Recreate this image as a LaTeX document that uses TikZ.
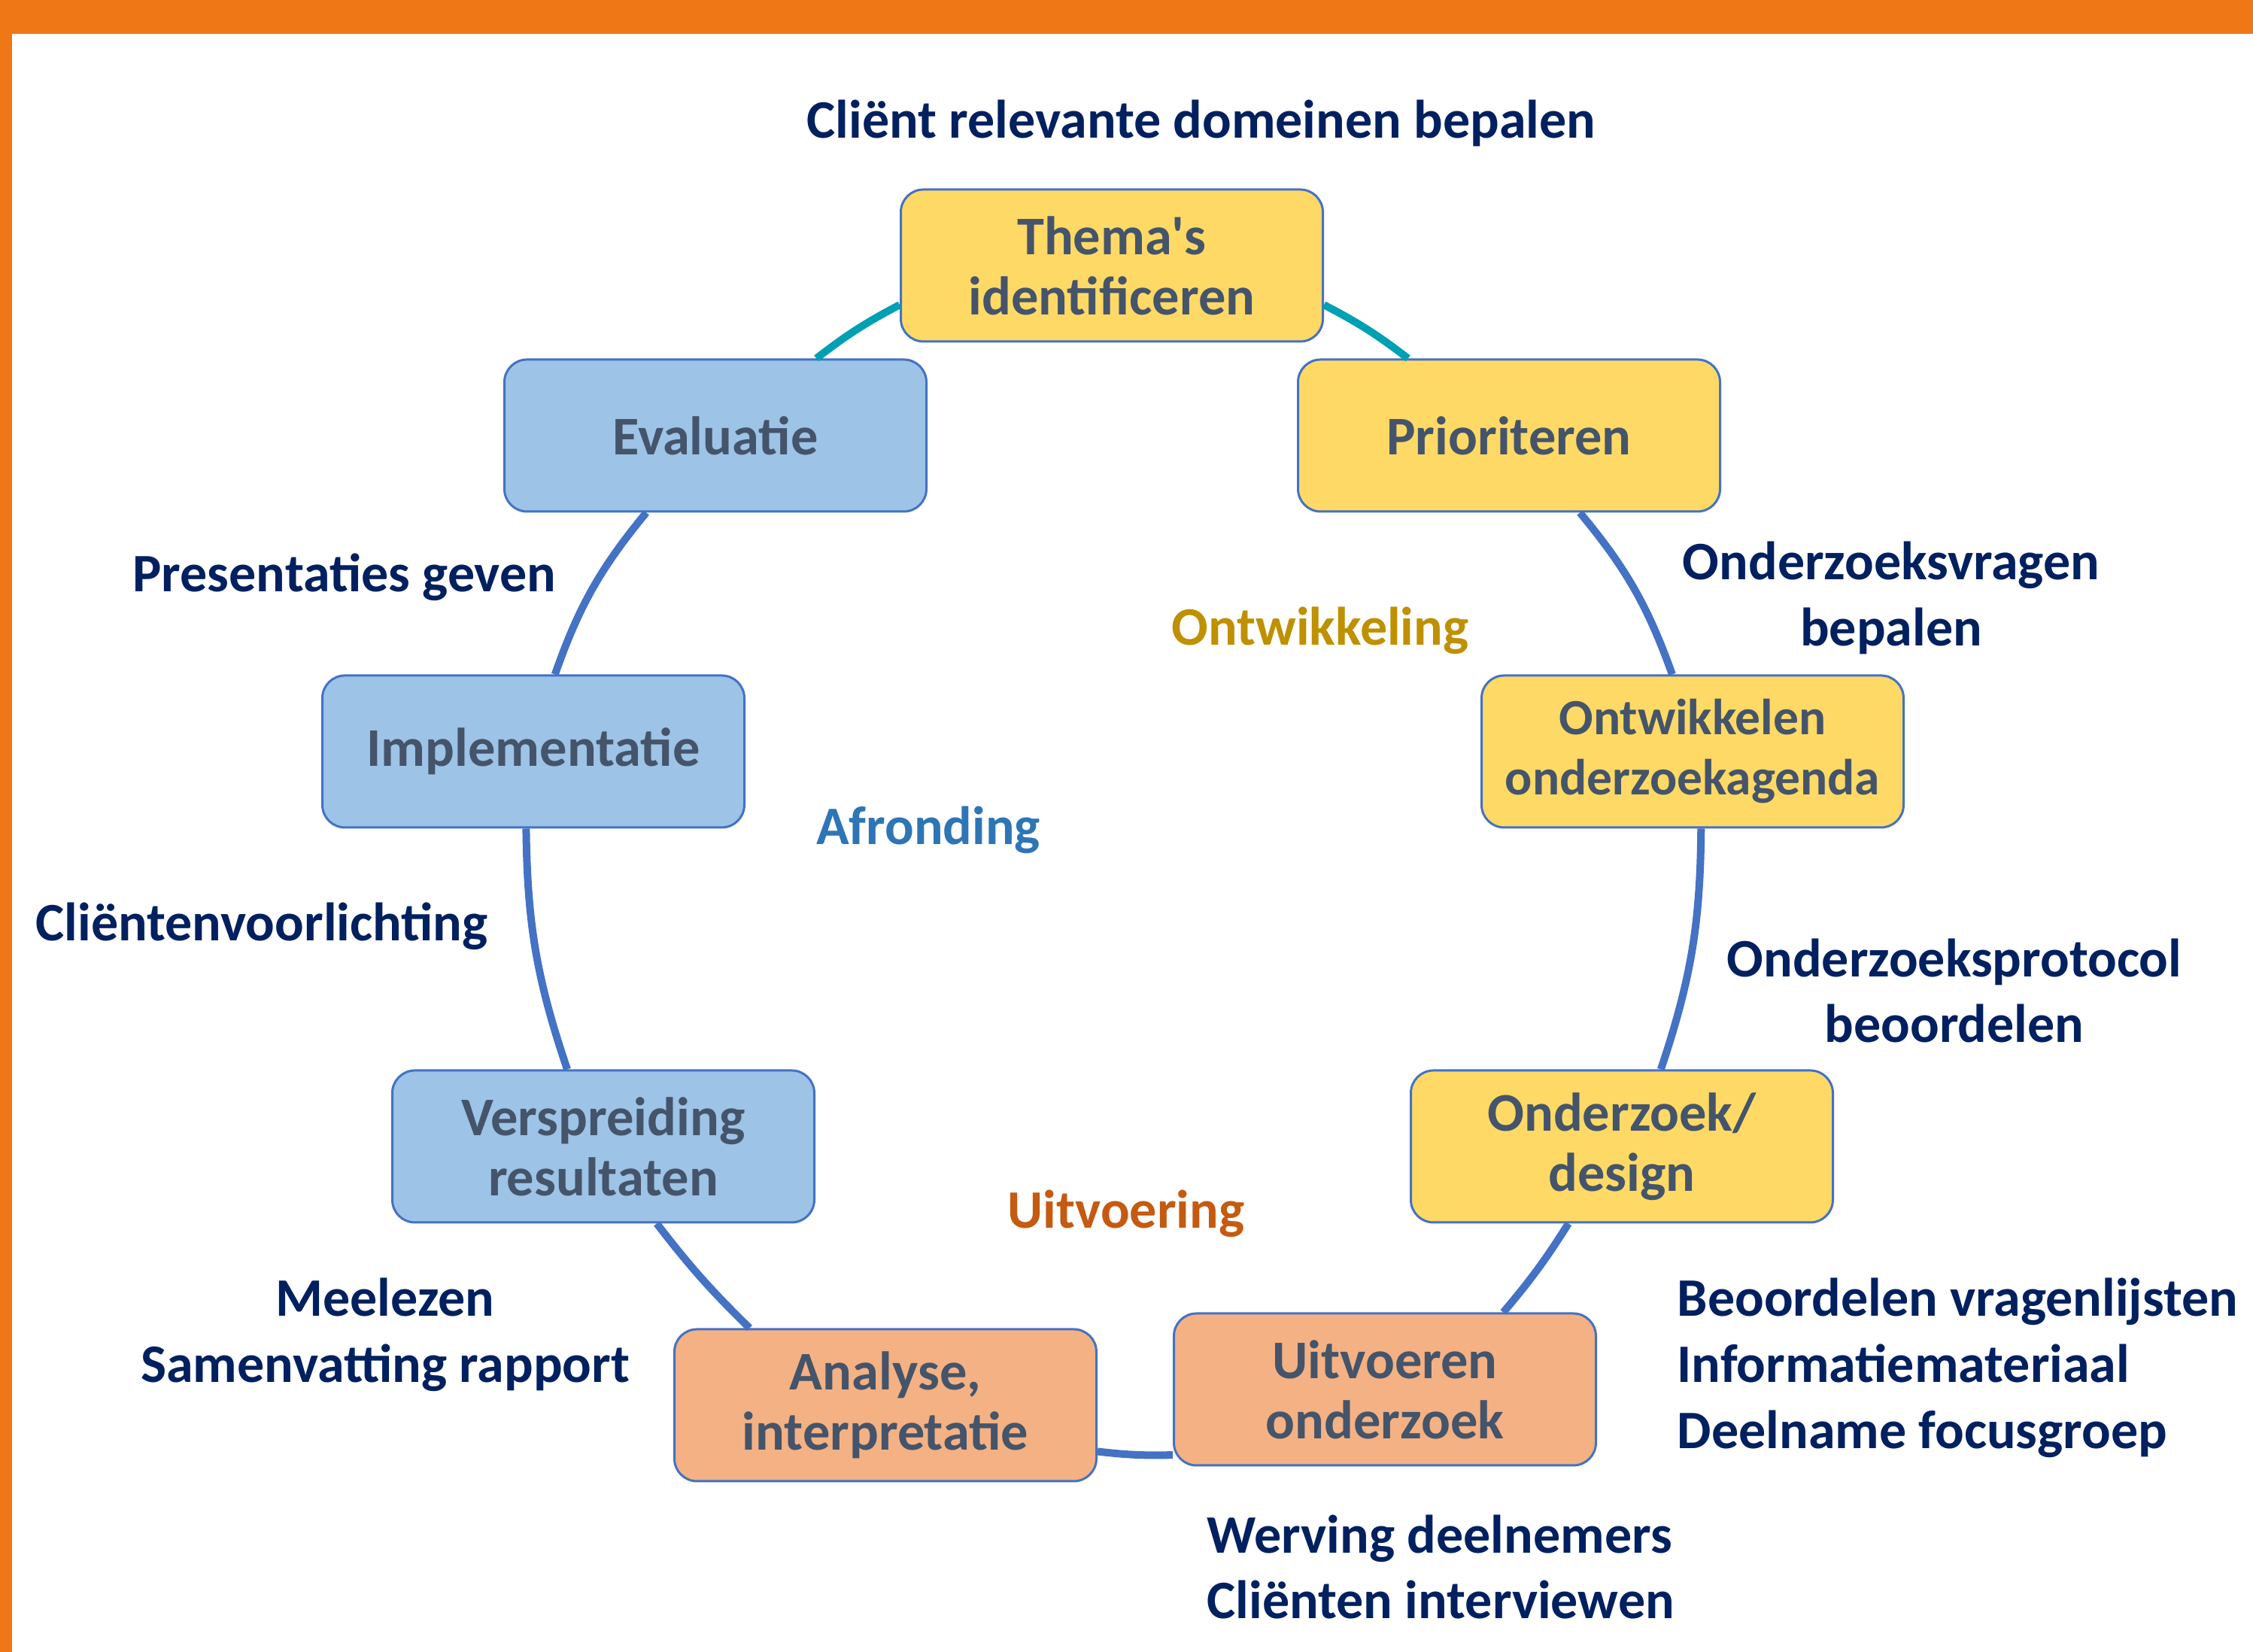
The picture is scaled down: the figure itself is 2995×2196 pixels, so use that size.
\documentclass[tikz,border=0pt]{standalone}
\usepackage{fontspec}
\setmainfont{Carlito}[Ligatures=TeXOff]
\usetikzlibrary{calc}
\definecolor{orangeband}{HTML}{EF7715}
\definecolor{boxline}{HTML}{4472C4}
\definecolor{boxtext}{HTML}{44546A}
\definecolor{navy}{HTML}{002060}
\definecolor{yel}{HTML}{FFD966}
\definecolor{blu}{HTML}{9DC3E6}
\definecolor{ora}{HTML}{F4B183}
\definecolor{teal}{HTML}{00A0B4}
\definecolor{gold}{HTML}{BF9000}
\definecolor{phblue}{HTML}{2E75B6}
\definecolor{phorange}{HTML}{C55A11}
\tikzset{
  stepbox/.style={draw=boxline, line width=0.3mm, rounded corners=3mm,
    minimum width=56.1mm, minimum height=20.2mm, align=center, text=boxtext,
    inner sep=0pt, font=\bfseries\fontsize{20.6}{22.8}\selectfont},
  ybox/.style={stepbox, fill=yel},
  bbox/.style={stepbox, fill=blu},
  obox/.style={stepbox, fill=ora},
  lab/.style={text=navy, inner sep=0pt, font=\bfseries\fontsize{20.5}{25}\selectfont},
  phase/.style={inner sep=0pt, font=\bfseries\fontsize{20.5}{25}\selectfont},
  conn/.style={line width=1.0mm, draw=boxline},
  tconn/.style={line width=1.0mm, draw=teal}
}
\begin{document}
\begin{tikzpicture}[x=0.1mm,y=0.1mm]
\useasboundingbox (0,0) rectangle (2995,2196);
\fill[white] (0,0) rectangle (2995,2196);
\fill[orangeband] (0,2151) rectangle (2995,2196);
\fill[orangeband] (0,0) rectangle (16,2196);

% boxes
\node[ybox] (thema) at (1478,1843) {Thema's\\identificeren};
\node[bbox] (eval) at (951,1617) {Evaluatie};
\node[ybox] (prio) at (2006,1617) {Prioriteren};
\node[bbox] (impl) at (709,1197) {Implementatie};
\node[ybox, font=\bfseries\fontsize{19.2}{22.8}\selectfont] (ontw) at (2250,1197) {Ontwikkelen\\onderzoekagenda};
\node[bbox] (versp) at (802,672) {Verspreiding\\resultaten};
\node[ybox] (design) at (2156,672) {Onderzoek/\\design};
\node[obox] (analyse) at (1177,328) {Analyse,\\interpretatie};
\node[obox] (uitv) at (1841,349) {Uitvoeren\\onderzoek};

% connectors (cycle)
\draw[tconn] ($(thema.north west)!0.755!(thema.south west)$) to[bend right=5] ($(eval.north west)!0.738!(eval.north east)$);
\draw[conn] ($(eval.south west)!0.337!(eval.south east)$) to[bend right=10] ($(impl.north west)!0.551!(impl.north east)$);
\draw[conn] ($(impl.south west)!0.483!(impl.south east)$) to[bend right=9] ($(versp.north west)!0.415!(versp.north east)$);
\draw[conn] ($(versp.south west)!0.626!(versp.south east)$) to[bend right=4] ($(analyse.north west)!0.18!(analyse.north east)$);
\draw[conn] ($(analyse.north east)!0.8!(analyse.south east)$) to[bend right=4] ($(uitv.north west)!0.925!(uitv.south west)$);
\draw[conn] ($(uitv.north west)!0.779!(uitv.north east)$) to[bend right=4] ($(design.south west)!0.374!(design.south east)$);
\draw[conn] ($(design.north west)!0.592!(design.north east)$) to[bend right=9] ($(ontw.south west)!0.52!(ontw.south east)$);
\draw[conn] ($(ontw.north west)!0.452!(ontw.north east)$) to[bend right=10] ($(prio.south west)!0.667!(prio.south east)$);
\draw[tconn] ($(prio.north west)!0.262!(prio.north east)$) to[bend right=5] ($(thema.north east)!0.755!(thema.south east)$);

% labels
\node[lab] (l1) at (1597,2032) {Cliënt relevante domeinen bepalen};
\node[lab, align=center] (l2) at (2514,1401) {Onderzoeksvragen\\bepalen};
\node[lab, align=center] (l3) at (2598,879) {Onderzoeksprotocol\\beoordelen};
\node[lab, align=left, anchor=west] (l4) at (2229,378) {Beoordelen vragenlijsten\\Informatiemateriaal\\Deelname focusgroep};
\node[lab, align=left, anchor=west] (l5) at (1604,113) {Werving deelnemers\\Cliënten interviewen};
\node[lab, align=center] (l6) at (512,422) {Meelezen\\Samenvatting rapport};
\node[lab] (l7) at (348,965) {Cliëntenvoorlichting};
\node[lab] (l8) at (458,1429) {Presentaties geven};

% phases
\node[phase, text=gold] (p1) at (1755,1358) {Ontwikkeling};
\node[phase, text=phblue] (p2) at (1234,1093) {Afronding};
\node[phase, text=phorange] (p3) at (1497,583) {Uitvoering};
\end{tikzpicture}
\end{document}
